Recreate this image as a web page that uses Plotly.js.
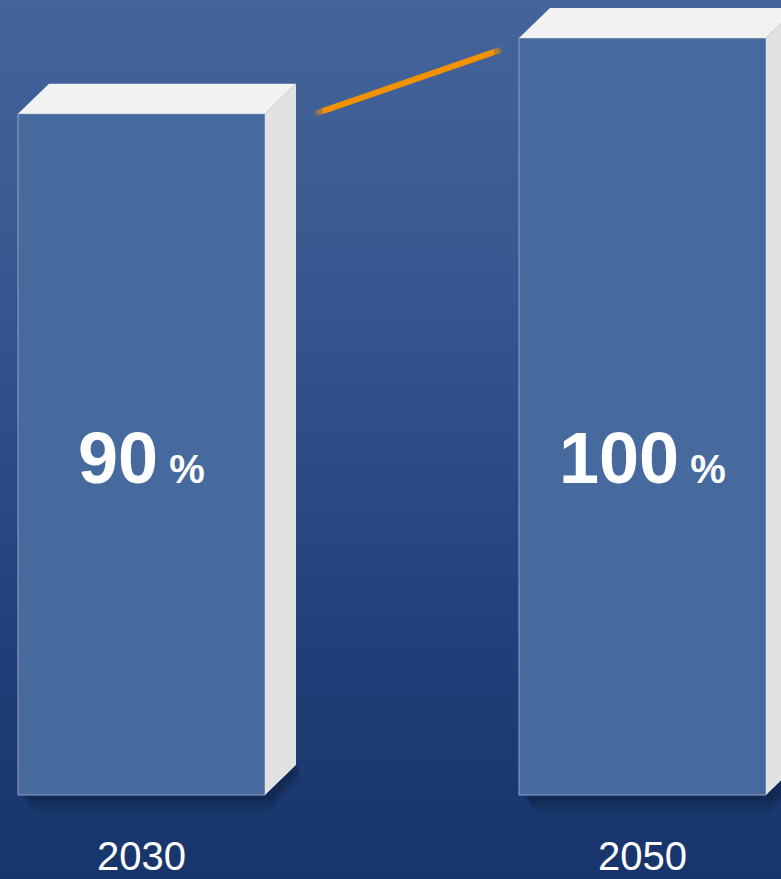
<!DOCTYPE html>
<html>
<head>
<meta charset="utf-8">
<script src="https://cdn.plot.ly/plotly-3.0.1.min.js"></script>
<style>
  html, body { margin:0; padding:0; width:781px; height:879px; overflow:hidden; }
  body { background: linear-gradient(to bottom, #44649b 0%, #3a5b92 25%, #2c4d87 50%, #203f78 75%, #17356b 100%); }
  #chart { width:781px; height:879px; }
</style>
</head>
<body>
<div id="chart"></div>
<script>
// ---- data ----
const categories = ['2030', '2050'];
const values = [90, 100];
const valueLabels = ['90', '100'];
const unitLabel = '%';
const connector = [90, 98.5];

// ---- geometry / style ----
const W = 781, H = 879;
const pxPerUnit = 7.57;          // vertical scale
const pxPerCat = 501;            // horizontal distance between bars
const firstCenterPx = 141.5;
const baselinePx = 795;
const yMax = baselinePx / pxPerUnit;
const yMin = -(H - baselinePx) / pxPerUnit;
const xMin = -firstCenterPx / pxPerCat;
const xMax = (W - firstCenterPx) / pxPerCat;
const barW = 247 / pxPerCat;
const dx = 31 / pxPerCat;        // depth offsets
const dy = 30 / pxPerUnit;
const px = p => p / pxPerCat;
const py = p => p / pxPerUnit;

const frontColor = '#466a9e';
const topColor = '#f2f2f2';
const sideColor = '#e2e2e2';
const xs = categories.map((c, i) => i);

const traces = [];

// front faces
traces.push({
  type: 'bar', x: xs, y: values, width: barW,
  marker: { color: frontColor, line: { color: '#8ea3c6', width: 1 } },
  hoverinfo: 'skip', showlegend: false
});

// top & side faces
xs.forEach((x, i) => {
  const v = values[i];
  const xl = x - barW / 2, xr = x + barW / 2;
  traces.push({
    type: 'scatter', mode: 'lines', fill: 'toself', fillcolor: topColor,
    x: [xl, xl + dx, xr + dx, xr, xl], y: [v, v + dy, v + dy, v, v],
    line: { width: 0, color: topColor }, hoverinfo: 'skip', showlegend: false
  });
  traces.push({
    type: 'scatter', mode: 'lines', fill: 'toself', fillcolor: sideColor,
    x: [xr, xr + dx, xr + dx, xr, xr], y: [0, dy, v + dy, v, 0],
    line: { width: 0, color: sideColor }, hoverinfo: 'skip', showlegend: false
  });
});

// connector line with faded ends
const cx0 = xs[0] + barW / 2 + dx + 0.038;
const cx1 = xs[1] - barW / 2 - 0.034;
const segs = [[0, 0.015, 0.25], [0.015, 0.04, 0.6], [0.04, 0.96, 1], [0.96, 0.985, 0.6], [0.985, 1, 0.25]];
segs.forEach(s => {
  const p = t => [cx0 + (cx1 - cx0) * t, connector[0] + (connector[1] - connector[0]) * t];
  const a = p(s[0]), b = p(s[1]);
  traces.push({
    type: 'scatter', mode: 'lines', x: [a[0], b[0]], y: [a[1], b[1]],
    line: { color: '#f39200', width: 6 }, opacity: s[2],
    hoverinfo: 'skip', showlegend: false
  });
});

// soft shadows under bars (layered)
const shapes = [];
xs.forEach(x => {
  const xl = x - barW / 2, xr = x + barW / 2;
  [3, 6, 9, 12, 15, 18].forEach(d => {
    shapes.push({
      type: 'path', xref: 'x', yref: 'y', layer: 'below',
      path: 'M ' + (xl + px(2 + d * 0.4)) + ',0' +
            ' L ' + (xr) + ',0' +
            ' L ' + (xr + dx) + ',' + dy +
            ' L ' + (xr + dx + px(d * 0.3)) + ',' + (dy - py(d * 0.6)) +
            ' L ' + (xr + px(8 - d * 0.2)) + ',' + (-py(d)) +
            ' L ' + (xl + px(2 + d * 0.8)) + ',' + (-py(d)) + ' Z',
      fillcolor: 'rgba(8,20,48,0.085)', line: { width: 0 }
    });
  });
});

// annotations
const annotations = [];
xs.forEach((x, i) => {
  annotations.push({
    x: x, xref: 'x', y: 1 - 458 / H, yref: 'paper', yanchor: 'middle', xanchor: 'center',
    text: '<b>' + valueLabels[i] + '</b><span style="font-size:40px"> <b>' + unitLabel + '</b></span>',
    showarrow: false,
    font: { family: 'Liberation Sans, Arial, sans-serif', size: 72, color: '#ffffff' }
  });
  annotations.push({
    x: x, xref: 'x', y: 1 - 856 / H, yref: 'paper', yanchor: 'middle', xanchor: 'center',
    text: categories[i], showarrow: false,
    font: { family: 'Liberation Sans, Arial, sans-serif', size: 40, color: '#ffffff' }
  });
});

const layout = {
  width: W, height: H,
  margin: { l: 0, r: 0, t: 0, b: 0, pad: 0 },
  paper_bgcolor: 'rgba(0,0,0,0)', plot_bgcolor: 'rgba(0,0,0,0)',
  xaxis: { range: [xMin, xMax], visible: false, fixedrange: true },
  yaxis: { range: [yMin, yMax], visible: false, fixedrange: true },
  showlegend: false, bargap: 0,
  shapes: shapes, annotations: annotations
};

Plotly.newPlot('chart', traces, layout, { displayModeBar: false, staticPlot: true });
</script>
</body>
</html>
